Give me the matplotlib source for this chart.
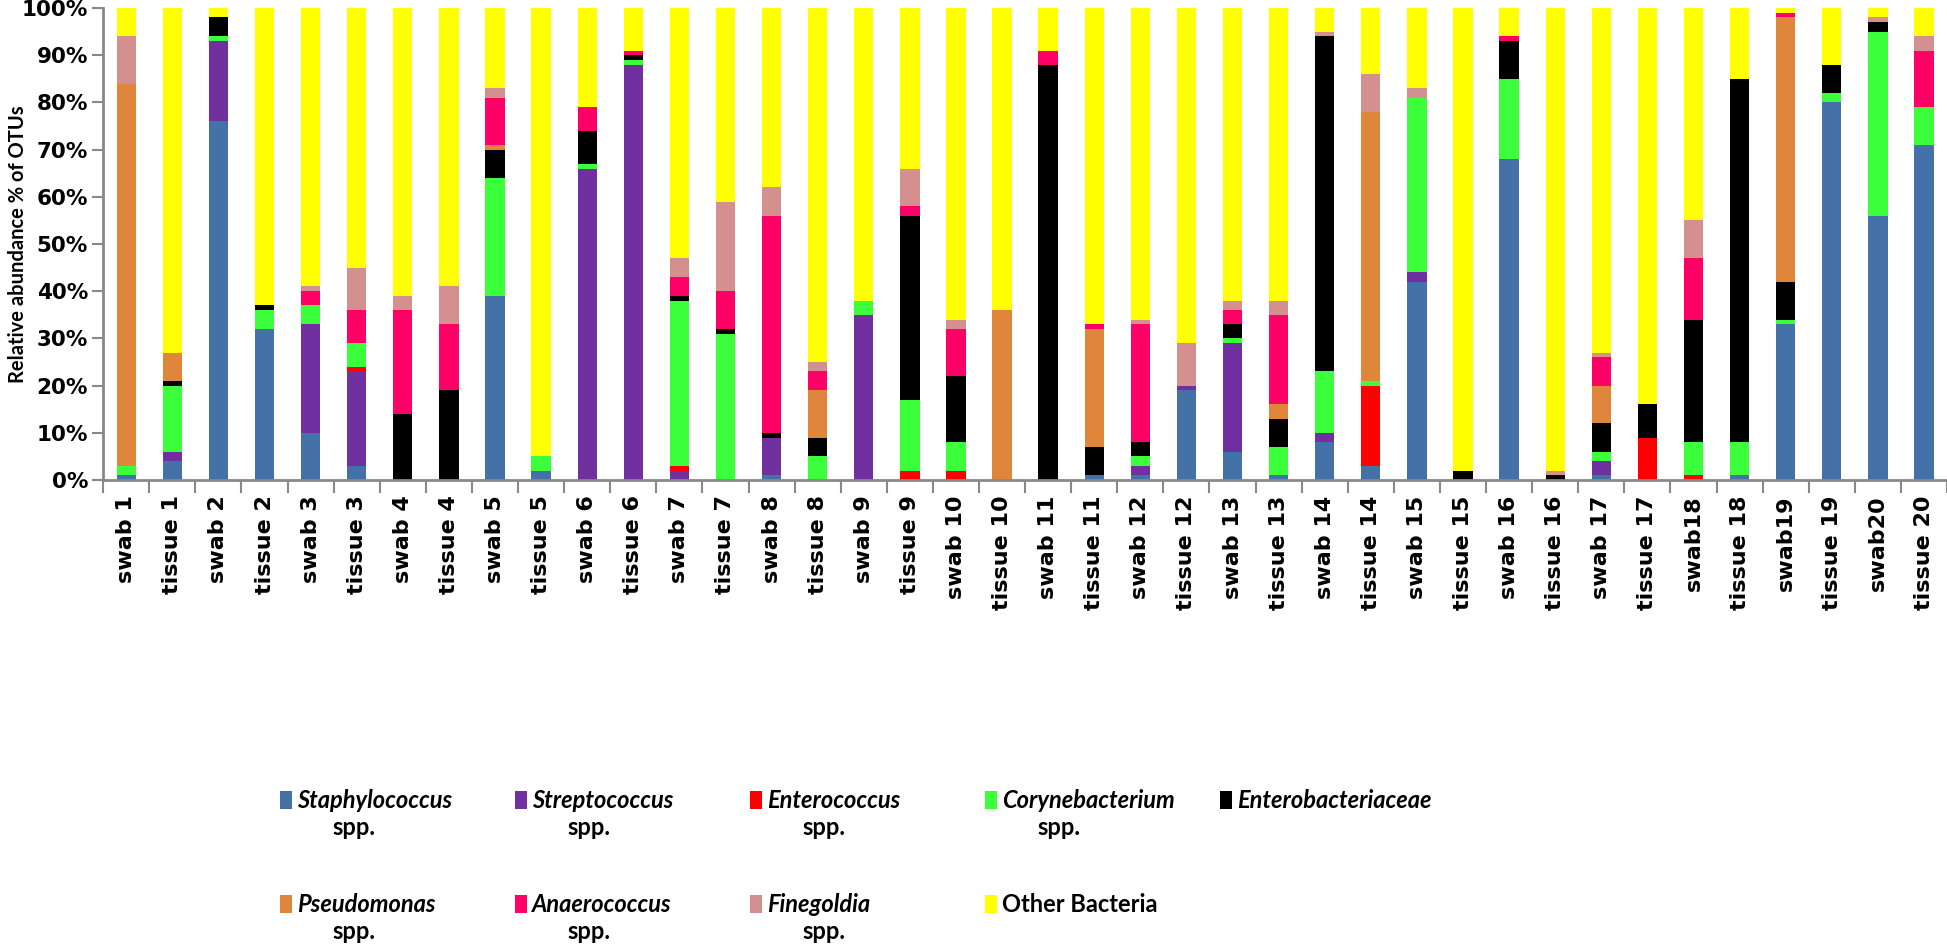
import numpy as np
import matplotlib
matplotlib.use('Agg')
from matplotlib import pyplot as plt
from matplotlib.patches import Rectangle

plt.rcParams['font.family'] = ['Lato', 'DejaVu Sans']

samples = ['swab 1', 'tissue 1', 'swab 2', 'tissue 2', 'swab 3', 'tissue 3',
           'swab 4', 'tissue 4', 'swab 5', 'tissue 5', 'swab 6', 'tissue 6',
           'swab 7', 'tissue 7', 'swab 8', 'tissue 8', 'swab 9', 'tissue 9',
           'swab 10', 'tissue 10', 'swab 11', 'tissue 11', 'swab 12', 'tissue 12',
           'swab 13', 'tissue 13', 'swab 14', 'tissue 14', 'swab 15', 'tissue 15',
           'swab 16', 'tissue 16', 'swab 17', 'tissue 17', 'swab18', 'tissue 18',
           'swab19', 'tissue 19', 'swab20', 'tissue 20']

# relative abundance (%) per taxon, bottom to top of the stack
staph = [1, 4, 76, 32, 10, 3, 0, 0, 39, 2, 0, 0, 0, 0, 1, 0, 0, 0, 0, 0,
         0, 1, 1, 19, 6, 1, 8, 3, 42, 0, 68, 0, 1, 0, 0, 1, 33, 80, 56, 71]
strep = [0, 2, 17, 0, 23, 20, 0, 0, 0, 0, 66, 88, 2, 0, 8, 0, 35, 0, 0, 0,
         0, 0, 2, 1, 23, 0, 2, 0, 2, 0, 0, 0, 3, 0, 0, 0, 0, 0, 0, 0]
entero = [0, 0, 0, 0, 0, 1, 0, 0, 0, 0, 0, 0, 1, 0, 0, 0, 0, 2, 2, 0,
          0, 0, 0, 0, 0, 0, 0, 17, 0, 0, 0, 0, 0, 9, 1, 0, 0, 0, 0, 0]
coryne = [2, 14, 1, 4, 4, 5, 0, 0, 25, 3, 1, 1, 35, 31, 0, 5, 3, 15, 6, 0,
          0, 0, 2, 0, 1, 6, 13, 1, 37, 0, 17, 0, 2, 0, 7, 7, 1, 2, 39, 8]
enterob = [0, 1, 4, 1, 0, 0, 14, 19, 6, 0, 7, 1, 1, 1, 1, 4, 0, 39, 14, 0,
           88, 6, 3, 0, 3, 6, 71, 0, 0, 2, 8, 1, 6, 7, 26, 77, 8, 6, 2, 0]
pseudo = [81, 6, 0, 0, 0, 0, 0, 0, 1, 0, 0, 0, 0, 0, 0, 10, 0, 0, 0, 36,
          0, 25, 0, 0, 0, 3, 0, 57, 0, 0, 0, 0, 8, 0, 0, 0, 56, 0, 0, 0]
anaero = [0, 0, 0, 0, 3, 7, 22, 14, 10, 0, 5, 1, 4, 8, 46, 4, 0, 2, 10, 0,
          3, 1, 25, 0, 3, 19, 0, 0, 0, 0, 1, 0, 6, 0, 13, 0, 1, 0, 0, 12]
finegoldia = [10, 0, 0, 0, 1, 9, 3, 8, 2, 0, 0, 0, 4, 19, 6, 2, 0, 8, 2, 0,
              0, 0, 1, 9, 2, 3, 1, 8, 2, 0, 0, 1, 1, 0, 8, 0, 0, 0, 1, 3]
other = [6, 73, 2, 63, 59, 55, 61, 59, 17, 95, 21, 9, 53, 41, 38, 75, 62, 34, 66, 64,
         9, 67, 66, 71, 62, 62, 5, 14, 17, 98, 6, 98, 73, 84, 45, 15, 1, 12, 2, 6]

series = [staph, strep, entero, coryne, enterob, pseudo, anaero, finegoldia, other]
genus = ['Staphylococcus', 'Streptococcus', 'Enterococcus', 'Corynebacterium',
         'Enterobacteriaceae', 'Pseudomonas', 'Anaerococcus', 'Finegoldia',
         'Other Bacteria']
has_spp = [True, True, True, True, False, True, True, True, False]
italic = [True, True, True, True, True, True, True, True, False]
colors = ['#4472A8', '#7030A0', '#FF0000', '#3CFF3C', '#000000',
          '#E0863A', '#FF0066', '#D4908E', '#FFFF00']

fig = plt.figure(figsize=(19.47, 9.46), dpi=100)
ax = fig.add_axes([0.053, 0.4926, 0.947, 0.4989])

x = np.arange(len(samples))
bottom = np.zeros(len(samples))
for vals, col in zip(series, colors):
    ax.bar(x, vals, width=0.42, bottom=bottom, color=col, linewidth=0)
    bottom += np.array(vals)

ax.set_xlim(-0.5, len(samples) - 0.5)
ax.set_ylim(0, 100)
ax.set_yticks(np.arange(0, 101, 10))
ax.set_yticklabels([str(v) + '%' for v in range(0, 101, 10)],
                   fontsize=15.5, fontweight='bold', family='DejaVu Sans')
ax.set_xticks(x)
ax.set_xticklabels(samples, rotation=90, fontsize=16, fontweight='bold',
                   family='DejaVu Sans')
ax.set_xticks(np.arange(-0.5, len(samples), 1), minor=True)
ax.tick_params(axis='x', which='major', length=0, pad=11)
ax.tick_params(axis='x', which='minor', length=9, color='#888888', width=1.5)
ax.tick_params(axis='y', length=8, color='#888888', width=1.5, pad=3)
for s in ['top', 'right']:
    ax.spines[s].set_visible(False)
for s in ['left', 'bottom']:
    ax.spines[s].set_color('#888888')
    ax.spines[s].set_linewidth(2)
ax.set_ylabel('Relative abundance % of OTUs', fontsize=14.5, fontweight='bold')
ax.yaxis.set_label_coords(-0.041, 0.5)

# legend drawn by hand: genus in bold italic, "spp." on its own line
col_x = [280, 515, 750, 985, 1220]
row_y = [800, 904]
W, H = 1947.0, 946.0
for i, name in enumerate(genus):
    cx = col_x[i % 5]
    ry = row_y[i // 5]
    fig.add_artist(Rectangle((cx / W, 1 - (ry + 9) / H), 12 / W, 18 / H,
                             transform=fig.transFigure, color=colors[i], lw=0))
    fig.text((cx + 17) / W, 1 - ry / H, name, fontsize=17, fontweight='bold',
             style='italic' if italic[i] else 'normal', va='center', ha='left')
    if has_spp[i]:
        fig.text((cx + 52) / W, 1 - (ry + 27) / H, 'spp.', fontsize=17,
                 fontweight='bold', va='center', ha='left')

fig.savefig('out.png', dpi=100)
